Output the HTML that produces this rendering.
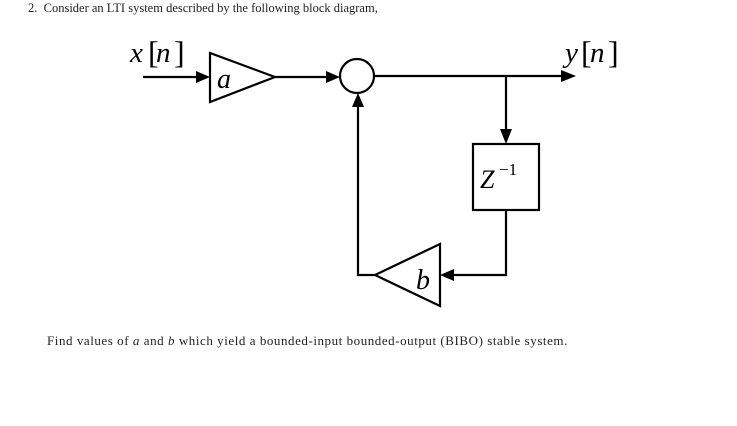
<!DOCTYPE html>
<html><head><meta charset="utf-8"><style>
html,body{margin:0;padding:0;background:#fff;}
body{width:737px;height:426px;position:relative;overflow:hidden;font-family:"Liberation Serif",serif;color:#222;}
.t{position:absolute;font-size:12.5px;white-space:nowrap;}
</style></head><body>
<div class="t" style="left:28px;top:1px;">2.&nbsp; Consider an LTI system described by the following block diagram,</div>
<svg width="737" height="426" style="position:absolute;left:0;top:0" xmlns="http://www.w3.org/2000/svg">
<g stroke="#000" stroke-width="2.2" fill="none">
<line x1="143" y1="77" x2="200" y2="77"/>
<polygon points="210,53 210,102 275,77" fill="#fff"/>
<line x1="275" y1="77" x2="330" y2="77"/>
<circle cx="357" cy="76" r="17" fill="#fff"/>
<line x1="374" y1="76" x2="565" y2="76"/>
<line x1="506" y1="76" x2="506" y2="133"/>
<rect x="473" y="144" width="66" height="66" fill="#fff"/>
<polyline points="506,210 506,275 452,275"/>
<polygon points="440,244 440,306 375,275" fill="#fff"/>
<polyline points="375,275 358,275 358,104"/>
</g>
<g fill="#000">
<polygon points="210,77 196,71 196,83"/>
<polygon points="340,77 326,71 326,83"/>
<polygon points="576,76 561,70 561,82"/>
<polygon points="506,144 500,129 512,129"/>
<polygon points="440,275 454,269 454,281"/>
<polygon points="358,93 352,107 364,107"/>
</g>
<g font-family="Liberation Serif, serif" font-style="italic" fill="#000">
<text x="130" y="62" font-size="29">x</text>
<text x="148" y="63" font-size="32" font-style="normal">[</text>
<text x="156" y="62" font-size="29">n</text>
<text x="174" y="63" font-size="32" font-style="normal">]</text>
<text x="565" y="62" font-size="29">y</text>
<text x="581" y="63" font-size="32" font-style="normal">[</text>
<text x="590" y="62" font-size="29">n</text>
<text x="608" y="63" font-size="32" font-style="normal">]</text>
<text x="217" y="88" font-size="28">a</text>
<text x="416" y="289" font-size="28">b</text>
<text x="480" y="188" font-size="26">Z</text>
<text x="499" y="175" font-size="17" font-style="normal">−1</text>
</g>
</svg>
<div class="t" style="left:47px;top:333px;font-size:13px;letter-spacing:0.55px;">Find values of <i>a</i> and <i>b</i> which yield a bounded-input bounded-output (BIBO) stable system.</div>
</body></html>
